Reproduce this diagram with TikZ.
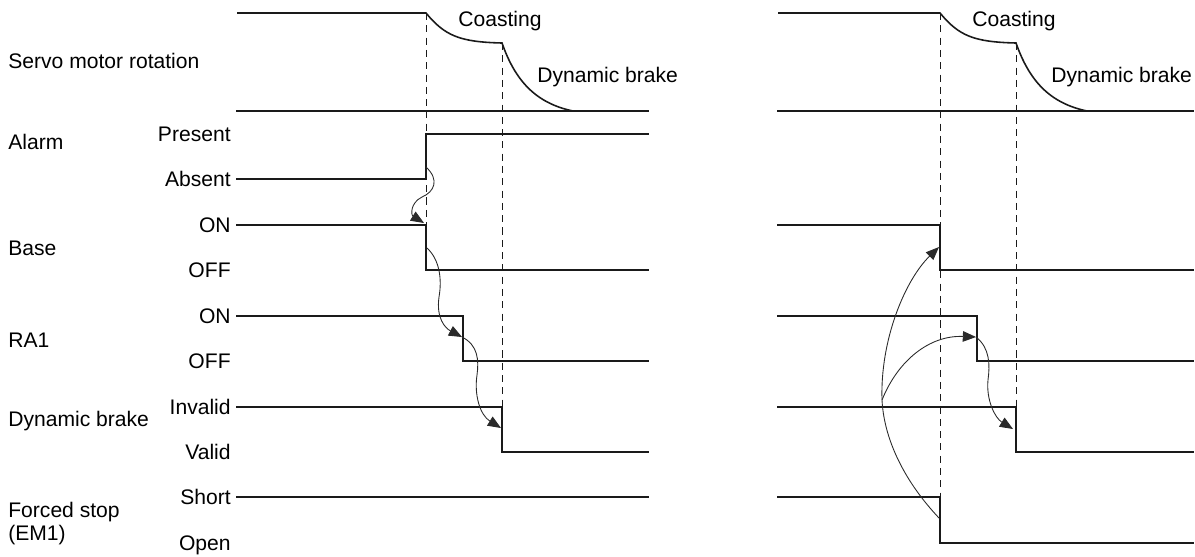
\documentclass[tikz,border=0pt]{standalone}
\usepackage{fontspec}
\setmainfont{Liberation Sans}
\usetikzlibrary{arrows.meta}
\definecolor{chartink}{HTML}{1A1A1A}
\definecolor{chartthin}{HTML}{2A2A2A}
\tikzset{
  chartfont/.style={font=\fontsize{12}{14}\selectfont, text=black,
    inner sep=0pt, text height=8.6pt, text depth=0pt},
  namelabel/.style={chartfont, anchor=west},
  twolabel/.style={font=\fontsize{12}{13.2}\selectfont, text=black,
    inner sep=0pt, anchor=north west, align=left},
  levellabel/.style={chartfont, anchor=east},
  curvelabel/.style={chartfont, anchor=west},
  sigline/.style={draw=chartink, line width=.9pt},
  baseline/.style={draw=chartink, line width=1.1pt},
  guide/.style={draw=chartink, line width=.55pt, dash pattern=on 4pt off 3pt},
  causeflow/.style={-{Triangle[length=7.5pt,width=6pt]}, draw=chartthin, line width=.5pt}
}

\begin{document}
\begin{tikzpicture}[x=0.02cm,y=-0.02cm]
  % Timing chart: stop by alarm (left) and by forced stop EM1 (right)
  \useasboundingbox (0,0) rectangle (1195,556);

  \foreach \n/\y/\txt in {servo/61/Servo motor rotation, alarm/142/Alarm,
      base/248/Base, raone/340/RA1, dbrake/419/Dynamic brake}
    \node[namelabel] (name-\n) at (8,\y) {\txt};
  \node[twolabel] (name-emone) at (8,502) {Forced stop\\(EM1)};

  \foreach \n/\y/\txt in {present/134/Present, absent/179/Absent, baseon/225/ON,
      baseoff/270/OFF, raon/316/ON, raoff/361/OFF, invalid/407/Invalid,
      valid/452/Valid, short/497/Short, open/543/Open}
    \node[levellabel] (lvl-\n) at (231,\y) {\txt};

  \foreach \pn/\xa/\xb/\t/\ye in {l/236/649/0/270, r/777/1194/514/497} {
    \draw[guide] (426+\t,13) -- (426+\t,\ye);
    \draw[guide] (502+\t,43) -- (502+\t,407);
    \draw[sigline] (\xa+1,13) -- (426+\t,13)
      .. controls (445+\t,36) and (460+\t,42) .. (502+\t,43)
      .. controls (515+\t,80) and (535+\t,103) .. (573+\t,111);
    \draw[baseline] (\xa,111) -- (\xb,111);
    \node[curvelabel] (\pn-coast) at (458+\t,19) {Coasting};
    \node[curvelabel] (\pn-brake) at (537+\t,75) {Dynamic brake};
    \draw[sigline] (\xa,225) -- (426+\t,225) -- (426+\t,270) -- (\xb,270);
    \draw[sigline] (\xa,316) -- (463+\t,316) -- (463+\t,361) -- (\xb,361);
    \draw[sigline] (\xa,407) -- (502+\t,407) -- (502+\t,452) -- (\xb,452);
  }
  \draw[sigline] (236,179) -- (426,179) -- (426,134) -- (649,134);
  \draw[sigline] (236,497) -- (649,497);
  \draw[sigline] (777,497) -- (940,497) -- (940,543) -- (1194,543);

  % left: alarm -> base -> RA1 -> dynamic brake
  \coordinate (l-alarmup) at (426,167);
  \coordinate (l-baseon) at (424,223);
  \coordinate (l-basedn) at (427,248);
  \coordinate (l-radn) at (462,337);
  \coordinate (l-dbdn) at (501,428);
  \draw[causeflow] (l-alarmup) .. controls (440,180) and (434,192) .. (422,197)
    .. controls (410,203) and (411,215) .. (l-baseon);
  \draw[causeflow] (l-basedn) .. controls (440,260) and (442,280) .. (439,297)
    .. controls (436,318) and (445,328) .. (l-radn);
  \draw[causeflow] (l-radn) .. controls (478,345) and (479,360) .. (477,375)
    .. controls (474,395) and (480,415) .. (l-dbdn);

  % right: EM1 -> base, EM1 -> RA1 -> dynamic brake
  \coordinate (r-emdn) at (939,518);
  \coordinate (r-split) at (882,400);
  \coordinate (r-basedn) at (939,247);
  \coordinate (r-radn) at (976,337);
  \coordinate (r-dbdn) at (1013,429);
  \draw[causeflow] (r-emdn) .. controls (905,482) and (884,440) .. (r-split)
    .. controls (880,340) and (905,280) .. (r-basedn);
  \draw[causeflow] (r-split) .. controls (898,360) and (930,335) .. (r-radn);
  \draw[causeflow] (r-radn) .. controls (990,348) and (990,365) .. (988,380)
    .. controls (986,400) and (995,418) .. (r-dbdn);
\end{tikzpicture}
\end{document}
